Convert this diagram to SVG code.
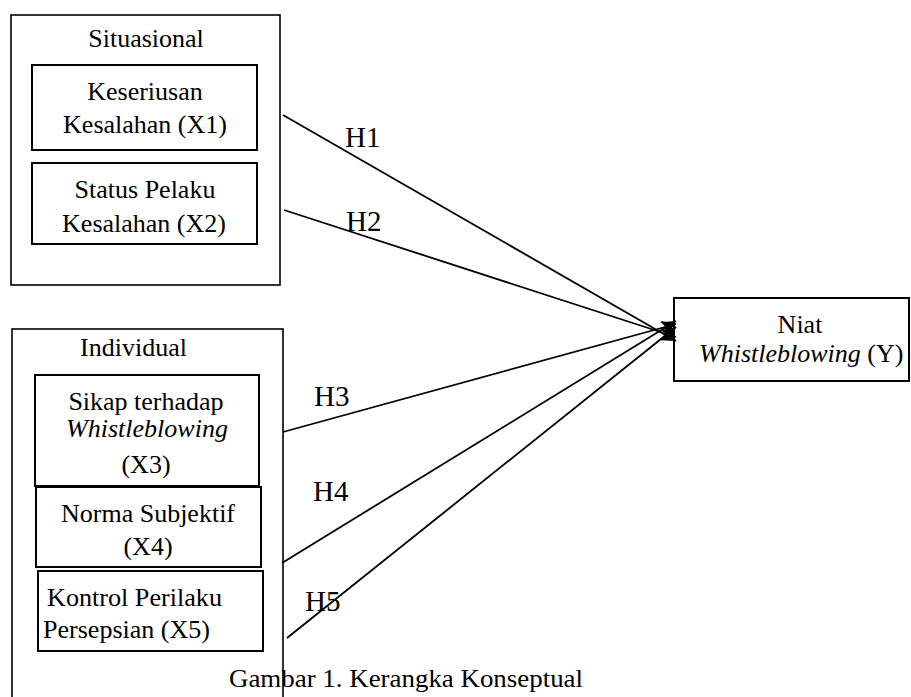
<svg xmlns="http://www.w3.org/2000/svg" width="911" height="697" viewBox="0 0 911 697">
<style>
text{font-family:"Liberation Serif","Times New Roman",serif;font-size:26px;fill:#000}
.c{text-anchor:middle}
.i{font-style:italic}
.h{font-size:29px}
.outer{fill:none;stroke:#000;stroke-width:1.6}
.inner{fill:#fff;stroke:#000;stroke-width:2}
.conn{stroke:#000;stroke-width:1.8;fill:none;marker-end:url(#ah)}
</style>
<defs>
<marker id="ah" markerUnits="userSpaceOnUse" markerWidth="16" markerHeight="14" refX="14" refY="7" orient="auto">
<path d="M0,0 L14,7 L0,14 L3,7 Z" fill="#000"/>
</marker>
</defs>
<rect width="911" height="697" fill="#fff"/>
<g id="situasional">
<rect class="outer" x="11" y="15" width="269" height="270"/>
<text class="c" x="146" y="47">Situasional</text>
</g>
<g id="x1">
<rect class="inner" x="32" y="65" width="225" height="85"/>
<text class="c" x="145" y="100">Keseriusan</text>
<text class="c" x="145" y="133">Kesalahan (X1)</text>
</g>
<g id="x2">
<rect class="inner" x="32" y="163" width="225" height="81"/>
<text class="c" x="145" y="198">Status Pelaku</text>
<text class="c" x="144" y="232">Kesalahan (X2)</text>
</g>
<g id="individual">
<rect class="outer" x="12" y="329" width="271" height="400"/>
<text x="80" y="356" textLength="107" lengthAdjust="spacingAndGlyphs">Individual</text>
</g>
<g id="x3">
<rect class="inner" x="35" y="375" width="224" height="111"/>
<text class="c" x="146" y="410">Sikap terhadap</text>
<text class="c i" x="147" y="437">Whistleblowing</text>
<text class="c" x="146" y="473">(X3)</text>
</g>
<g id="x4">
<rect class="inner" x="36" y="487" width="225" height="80"/>
<text class="c" x="148" y="522">Norma Subjektif</text>
<text class="c" x="148" y="555">(X4)</text>
</g>
<g id="x5">
<rect class="inner" x="38" y="571" width="225" height="80"/>
<text x="47" y="606" textLength="175" lengthAdjust="spacingAndGlyphs">Kontrol Perilaku</text>
<text x="43" y="638" textLength="167" lengthAdjust="spacingAndGlyphs">Persepsian (X5)</text>
</g>
<g id="y">
<rect class="inner" x="674" y="298" width="235" height="83"/>
<text class="c" x="800" y="333">Niat</text>
<text x="699" y="362"><tspan class="i">Whistleblowing</tspan> (Y)</text>
</g>
<g id="connectors">
<line class="conn" x1="283" y1="115" x2="676" y2="341"/>
<line class="conn" x1="284" y1="210" x2="676" y2="337"/>
<line class="conn" x1="283" y1="432" x2="676" y2="324"/>
<line class="conn" x1="282" y1="563" x2="676" y2="321"/>
<line class="conn" x1="287" y1="638" x2="676" y2="327"/>
</g>
<g id="labels">
<text class="h" x="345" y="147">H1</text>
<text class="h" x="346" y="231">H2</text>
<text class="h" x="314" y="406">H3</text>
<text class="h" x="313" y="501">H4</text>
<text class="h" x="305" y="611">H5</text>
</g>
<text x="229" y="687" textLength="354" lengthAdjust="spacingAndGlyphs">Gambar 1. Kerangka Konseptual</text>
</svg>
